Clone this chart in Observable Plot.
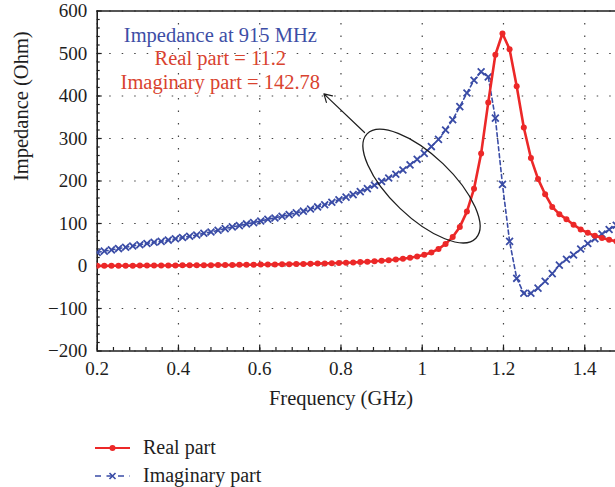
<!DOCTYPE html>
<html><head><meta charset="utf-8">
<script src="https://cdn.jsdelivr.net/npm/d3@7"></script>
<script src="https://cdn.jsdelivr.net/npm/@observablehq/plot@0.6"></script>
<style>
body{margin:0;background:#fff;font-family:"Liberation Serif",serif;}
svg{display:block}
</style></head><body><div id="chart"></div>
<script>
// Frequency sweep (GHz)
const freq = [0.2000,0.2175,0.2350,0.2525,0.2700,0.2875,0.3050,0.3225,0.3400,0.3575,
0.3750,0.3925,0.4100,0.4275,0.4450,0.4625,0.4800,0.4975,0.5150,0.5325,
0.5500,0.5675,0.5850,0.6025,0.6200,0.6375,0.6550,0.6725,0.6900,0.7075,
0.7250,0.7425,0.7600,0.7775,0.7950,0.8125,0.8300,0.8475,0.8650,0.8825,
0.9000,0.9175,0.9350,0.9525,0.9700,0.9875,1.0050,1.0225,1.0400,1.0575,
1.0750,1.0925,1.1100,1.1275,1.1450,1.1625,1.1800,1.1975,1.2150,1.2325,
1.2500,1.2675,1.2850,1.3025,1.3200,1.3375,1.3550,1.3725,1.3900,1.4075,
1.4250,1.4425,1.4600,1.4775];
// Real part (Ohm)
const realPart = [0.3,0.4,0.5,0.6,0.7,0.8,0.9,1.0,1.1,1.2,
1.3,1.4,1.5,1.6,1.8,1.9,2.0,2.2,2.4,2.5,
2.7,2.9,3.1,3.3,3.5,3.8,4.0,4.3,4.6,4.9,
5.3,5.7,6.1,6.6,7.1,7.7,8.4,9.2,10,11,
12.2,13.6,15.2,17.1,19.5,22.5,26.5,32,40,52,
68,92,128,182,265,385,497,547,510,423,
326,254,205,169,139,122,110,97,86,78,
71,66,62,58];
// Imaginary part (Ohm)
const imagPart = [32,35,38,41,44,47,50,53,56,58,
61,64,67,70,73,77,80,84,88,92,
95,99,102,106,110,113,117,121,125,129,
134,139,144,150,156,162,168,175,182,190,
199,207,216,226,238,251,265,281,298,320,
344,375,407,437,457,445,348,192,58,-29,
-64,-64,-52,-36,-18,2,16,26,40,53,
64,75,86,96];

const xDomain = [0.2, 1.4757];
const yDomain = [-200, 600];
const xTicks = [0.2,0.4,0.6,0.8,1,1.2,1.4];
const xTickLabels = ["0.2","0.4","0.6","0.8","1","1.2","1.4"];
const yTicks = [-200,-100,0,100,200,300,400,500,600];
const yTickLabels = ["\u2212200","\u2212100","0","100","200","300","400","500","600"];
const xMinor = d3.range(0.24, 1.48, 0.04);
const yMinor = d3.range(-180, 600, 20);

const annLines = ["Impedance at 915 MHz", "Real part = 11.2", "Imaginary part = 142.78"];
const annColors = ["#3d4ea6", "#d9432f", "#d9432f"];
const annY = [526, 472, 417];
const annX = 0.503;
const arrowFrom = [0.858, 314];
const arrowTo = [0.758, 405];
const ellipseCenter = [0.9994, 187];

const RED = "#ec2828", BLUE = "#3a4ca6", INK = "#1e1e1e";
const rows = freq.map((f, i) => ({f, re: realPart[i], im: imagPart[i]}));
const ann = annLines.map((t, i) => ({t, c: annColors[i], y: annY[i], x: annX}));

function ellipseMark(index, scales) {
  const cx = scales.x(ellipseCenter[0]), cy = scales.y(ellipseCenter[1]);
  return d3.create("svg:ellipse")
    .attr("cx", cx).attr("cy", cy).attr("rx", 75.4).attr("ry", 31)
    .attr("transform", `rotate(43.8 ${cx} ${cy})`)
    .attr("fill", "none").attr("stroke", INK).attr("stroke-width", 1.3).node();
}

const fmtX = d => xTickLabels[xTicks.indexOf(d)];
const fmtY = d => yTickLabels[yTicks.indexOf(d)];

const plot = Plot.plot({
  width: 615, height: 415,
  marginLeft: 96.7, marginRight: 0, marginTop: 10.5, marginBottom: 64.5,
  style: {fontFamily: "Liberation Serif", fontSize: "19px", color: INK, background: "white", overflow: "hidden"},
  x: {domain: xDomain, label: null},
  y: {domain: yDomain, label: null},
  marks: [
    Plot.gridX(xTicks, {stroke: "#444", strokeOpacity: 1, strokeWidth: 1.2, strokeDasharray: "1.5,11"}),
    Plot.gridY(yTicks, {stroke: "#444", strokeOpacity: 1, strokeWidth: 1.2, strokeDasharray: "1.5,11"}),
    Plot.axisX(xMinor, {tickSize: -3.5, fill: "none", label: null, strokeWidth: 1.2}),
    Plot.axisY(yMinor, {tickSize: -3, fill: "none", label: null, strokeWidth: 1.2}),
    Plot.axisX(xTicks, {tickSize: -6, tickPadding: 16, tickFormat: fmtX, label: null, strokeWidth: 1.2, fontSize: 19}),
    Plot.axisY(yTicks, {tickSize: -5, tickPadding: 15, tickFormat: fmtY, label: null, strokeWidth: 1.2, fontSize: 19}),
    Plot.ruleY([yDomain[1]], {stroke: INK, strokeWidth: 1.6}),
    Plot.ruleY([yDomain[0]], {stroke: INK, strokeWidth: 1.6}),
    Plot.ruleX([xDomain[0]], {stroke: INK, strokeWidth: 1.6}),
    Plot.line(rows, {x: "f", y: "im", stroke: BLUE, strokeWidth: 1.6, strokeDasharray: "4,3", clip: true}),
    Plot.dot(rows, {x: "f", y: "im", symbol: "times", r: 3.2, stroke: BLUE, strokeWidth: 1.8, clip: true}),
    Plot.line(rows, {x: "f", y: "re", stroke: RED, strokeWidth: 2.6, clip: true}),
    Plot.dot(rows, {x: "f", y: "re", r: 3, fill: RED, stroke: "none", clip: true}),
    ellipseMark,
    Plot.arrow([0], {x1: () => arrowFrom[0], y1: () => arrowFrom[1], x2: () => arrowTo[0], y2: () => arrowTo[1], stroke: INK, strokeWidth: 1.2, headLength: 11, headAngle: 60}),
    Plot.text(ann, {x: "x", y: "y", text: "t", fill: "c", fontSize: 20.5, lineAnchor: "bottom", textAnchor: "middle"}),
    Plot.text(["Frequency (GHz)"], {x: () => 0.8, frameAnchor: "bottom", dy: 54, lineAnchor: "bottom", fontSize: 20.5, text: d => d}),
    Plot.text(["Impedance (Ohm)"], {y: () => 200, frameAnchor: "left", dx: -69, rotate: -90, lineAnchor: "bottom", fontSize: 20.5, text: d => d})
  ]
});
document.getElementById("chart").appendChild(plot);

// Legend below the plot
const legendItems = ["Real part", "Imaginary part"];
const lg = d3.create("svg").attr("width", 615).attr("height", 72)
  .style("font-family", "Liberation Serif").style("font-size", "20px");
legendItems.forEach((name, i) => {
  const y = 33 + i * 28;
  const g = lg.append("g");
  if (i === 0) {
    g.append("line").attr("x1", 95).attr("x2", 130).attr("y1", y).attr("y2", y).attr("stroke", RED).attr("stroke-width", 2);
    g.append("circle").attr("cx", 112.5).attr("cy", y).attr("r", 3).attr("fill", RED);
  } else {
    g.append("line").attr("x1", 95).attr("x2", 130).attr("y1", y).attr("y2", y).attr("stroke", BLUE).attr("stroke-width", 1.4).attr("stroke-dasharray", "6,5.5");
    g.append("path").attr("d", `M${109.5},${y-3}L${115.5},${y+3}M${115.5},${y-3}L${109.5},${y+3}`).attr("stroke", BLUE).attr("stroke-width", 1.6);
  }
  g.append("text").attr("x", 143).attr("y", y + 6).attr("fill", INK).text(name);
});
document.getElementById("chart").appendChild(lg.node());
</script></body></html>
